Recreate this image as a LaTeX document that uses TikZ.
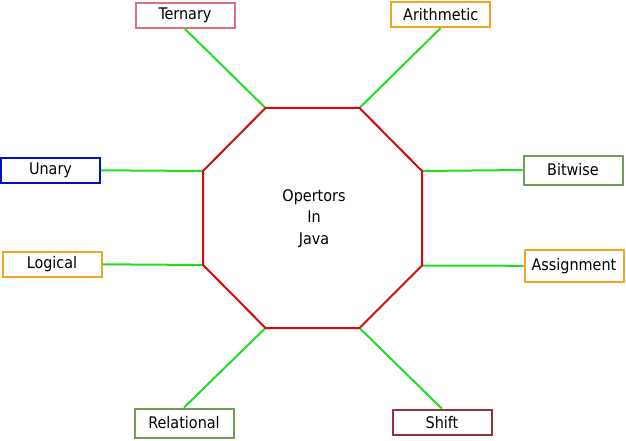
\documentclass[tikz,border=0pt]{standalone}
\usepackage{fontspec}
\setmainfont{DejaVu Sans Condensed}
\usepackage{xcolor}
\usetikzlibrary{positioning, calc}

\definecolor{pinkbox}{HTML}{E0707F}
\definecolor{bluebox}{HTML}{0010C8}
\definecolor{orangebox}{HTML}{F0A524}
\definecolor{greenbox}{HTML}{6F9D55}
\definecolor{redbox}{HTML}{943040}
\definecolor{spokegreen}{HTML}{22DD22}
\definecolor{octred}{HTML}{D40A0A}

\begin{document}
\begin{tikzpicture}[
    x=1pt, y=-1pt,
    font=\fontsize{16}{21.5}\selectfont,
    op/.style={rectangle, draw, line width=2pt, minimum width=99pt, minimum height=25pt, inner sep=0pt, fill=white},
    spoke/.style={draw=spokegreen, line width=2pt},
    octedge/.style={draw=octred, line width=2pt, line join=miter}
]
    \useasboundingbox (0,0) rectangle (626,441);

    \coordinate (tl) at (265.5,108);
    \coordinate (tr) at (359.5,108);
    \coordinate (rt) at (422,171);
    \coordinate (rb) at (422,265.5);
    \coordinate (br) at (359.5,328);
    \coordinate (bl) at (265.5,328);
    \coordinate (lb) at (203,265);
    \coordinate (lt) at (203,171);

    \node[op, draw=pinkbox] (ternary) at (185,15.5) {Ternary};
    \node[op, draw=orangebox] (arith) at (440.7,14.5) {Arithmetic};
    \node[op, draw=bluebox] (unary) at (50.5,170.3) {Unary};
    \node[op, draw=greenbox, minimum height=29pt] (bitwise) at (573,170) {Bitwise};
    \node[op, draw=orangebox] (logical) at (52,264.3) {Logical};
    \node[op, draw=orangebox, minimum height=32pt] (assign) at (574,265.8) {Assignment};
    \node[op, draw=greenbox, minimum height=29pt] (relational) at (184,423) {Relational};
    \node[op, draw=redbox] (shift) at (442,422.3) {Shift};

    \node[align=center] (java) at (314,218.5) {Opertors\\In\\Java};

    \draw[spoke] (ternary.south) -- (tl);
    \draw[spoke] (arith.south) -- (tr);
    \draw[spoke] (unary.east) -- (lt);
    \draw[spoke] (bitwise.west) -- (rt);
    \draw[spoke] (logical.east) -- (lb);
    \draw[spoke] (assign.west) -- (rb);
    \draw[spoke] (relational.north) -- (bl);
    \draw[spoke] (shift.north) -- (br);

    \draw[octedge] (tl) -- (tr) -- (rt) -- (rb) -- (br) -- (bl) -- (lb) -- (lt) -- cycle;
\end{tikzpicture}
\end{document}
